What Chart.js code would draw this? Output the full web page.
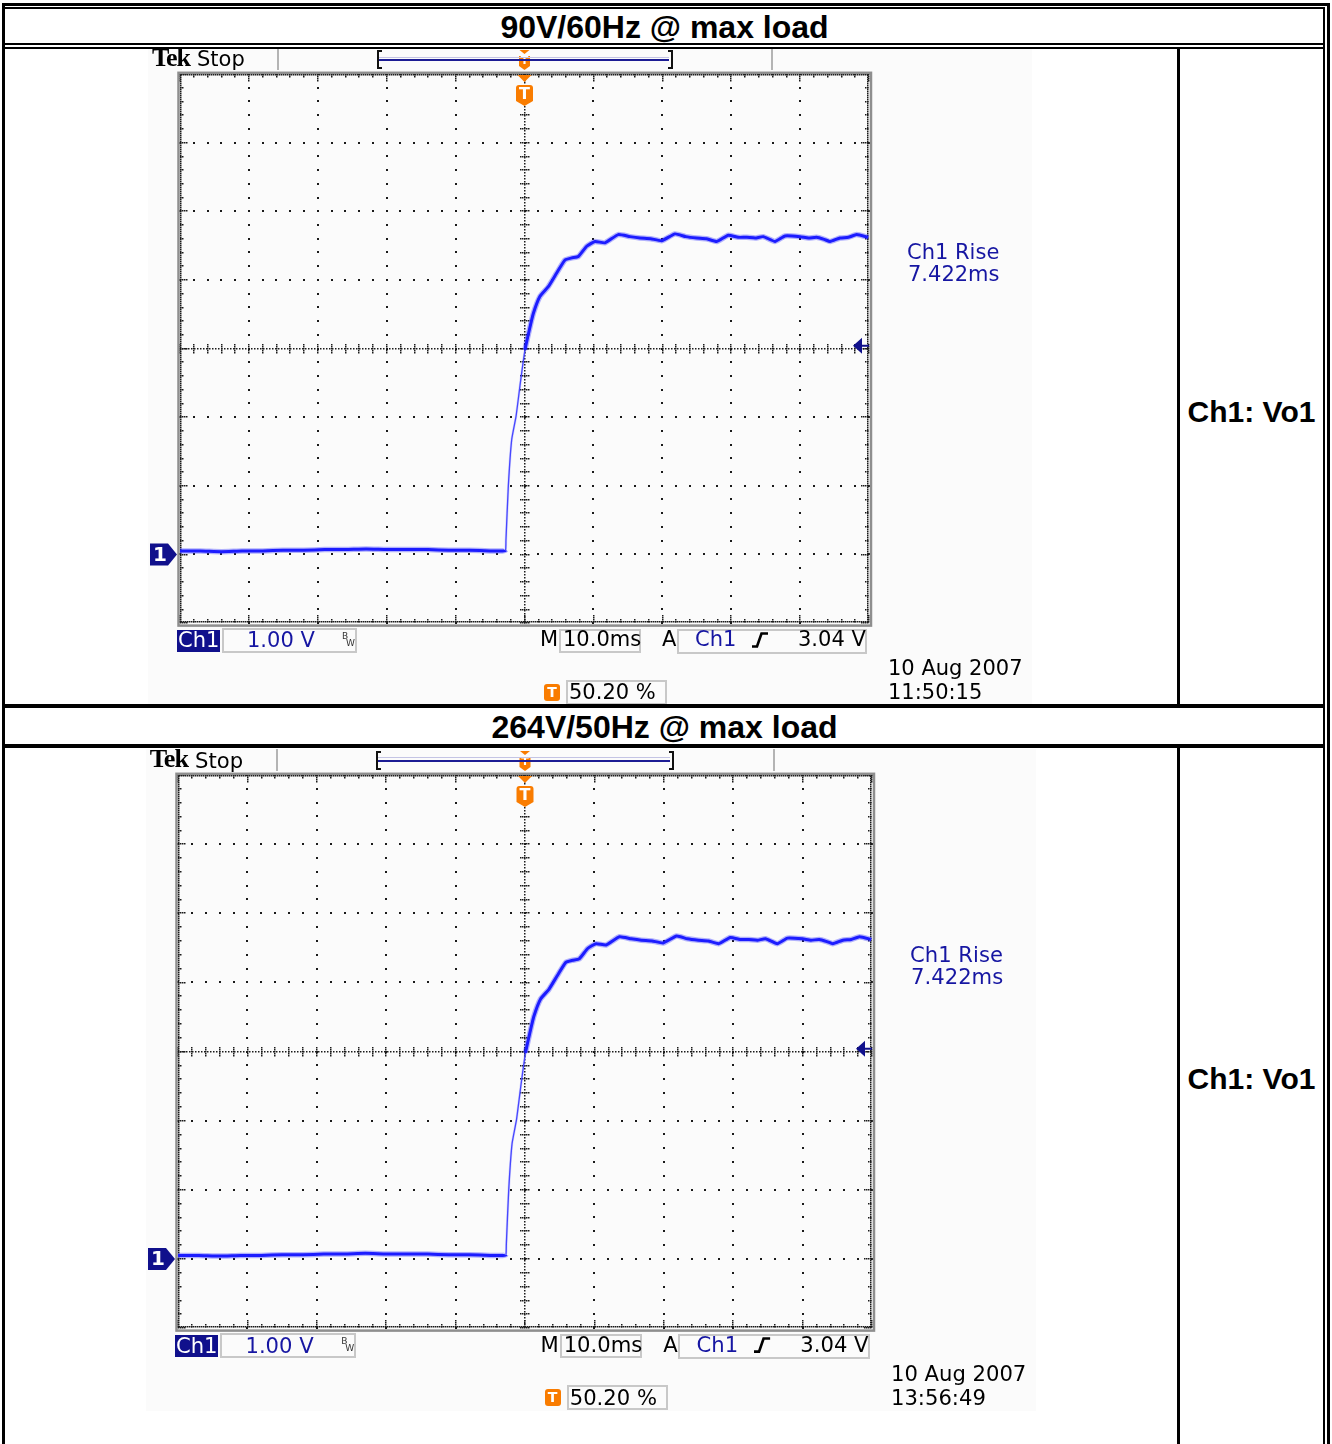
<!DOCTYPE html>
<html>
<head>
<meta charset="utf-8">
<script src="https://cdn.jsdelivr.net/npm/chart.js"></script>
<style>
  html, body { margin: 0; padding: 0; background: #fff; }
  body { width: 1332px; height: 1444px; position: relative; overflow: hidden; }
  .rule { position: absolute; background: #000; z-index: 5; }
  .title { position: absolute; left: 6px; width: 1317px; text-align: center; font: bold 32px/1 "Liberation Sans", Arial, sans-serif; color: #000; }
  .side { position: absolute; left: 1180px; width: 143px; text-align: center; font: bold 30px/1 "Liberation Sans", Arial, sans-serif; color: #000; }
  .t { position: absolute; white-space: nowrap; line-height: 1; font-family: "DejaVu Sans", Verdana, sans-serif; z-index: 3; }
  .box { position: absolute; box-sizing: border-box; z-index: 2; }
</style>
</head>
<body>
<script>
const panelTitles = ['90V/60Hz @ max load', '264V/50Hz @ max load'];
const channelLabel = 'Ch1: Vo1';
const captureDate = ['10 Aug 2007', '10 Aug 2007'];
const captureTime = ['11:50:15', '13:56:49'];
const riseLabel = ['7.422ms', '7.422ms'];
const voltsPerDivText = '1.00 V';
const timePerDivText = '10.0ms';
const trigLevelText = '3.04 V';
const trigPosText = '50.20 %';

const msPerDiv = 10;
const timeRange = [-50, 50];   // ms, trigger at centre
const voltRange = [-1, 7];     // V, ch1 ground 3 div below centre
const trigLevelV = 3.04;
const edgeWindowMs = [-2.75, 0.07]; // fast part of the edge, drawn thin like the scope does

const timeMs = [-50, -47, -44, -41, -38, -35, -32, -29, -26, -23,
  -20, -17, -14, -11, -8, -5, -3.2, -2.75, -2.69, -2.35,
  -1.86, -1.23, -0.55, 0.07, 0.70, 1.28, 2.25, 3.45, 4.67, 5.88,
  6.85, 7.81, 9.03, 10.23, 11.68, 13.61, 15.3, 16.76, 18.3, 19.91,
  21.84, 23.4, 24.99, 26.4, 27.9, 29.58, 31.0, 32.25, 33.5, 34.66,
  36.36, 37.81, 39.99, 41.2, 42.4, 43.5, 44.35, 45.79, 47.0, 48.22, 49.9];

const vo1At90V = [0.05, 0.05, 0.04, 0.05, 0.05, 0.06, 0.06, 0.07, 0.07, 0.08,
  0.07, 0.07, 0.07, 0.06, 0.06, 0.05, 0.05, 0.06, 0.21, 0.99,
  1.67, 2.01, 2.54, 2.98, 3.27, 3.51, 3.76, 3.90, 4.10, 4.29,
  4.32, 4.34, 4.49, 4.56, 4.54, 4.66, 4.63, 4.61, 4.60, 4.57,
  4.67, 4.63, 4.61, 4.60, 4.56, 4.65, 4.62, 4.62, 4.61, 4.63,
  4.56, 4.64, 4.63, 4.61, 4.62, 4.59, 4.56, 4.61, 4.62, 4.66, 4.62];

const vo1At264V = [0.05, 0.05, 0.04, 0.05, 0.05, 0.06, 0.06, 0.07, 0.07, 0.08,
  0.07, 0.07, 0.07, 0.06, 0.06, 0.05, 0.05, 0.06, 0.21, 0.99,
  1.67, 2.01, 2.54, 2.98, 3.27, 3.51, 3.76, 3.90, 4.10, 4.29,
  4.32, 4.34, 4.49, 4.56, 4.54, 4.66, 4.63, 4.61, 4.60, 4.57,
  4.67, 4.63, 4.61, 4.60, 4.56, 4.65, 4.62, 4.62, 4.61, 4.63,
  4.56, 4.64, 4.63, 4.61, 4.62, 4.59, 4.56, 4.61, 4.62, 4.66, 4.62];

const traces = [vo1At90V, vo1At264V];

// ===== Layout: chart-area origin of each scope shot =====
const layouts = [{ ox: 180, oy: 74, s: 1 }, { ox: 178, oy: 775, s: 1.007 }];

const NAVY = '#10108c';
const ORANGE = '#f97c00';
const TEXT_BLUE = '#1616a2';

// ===== Page frame =====
function rule(l, t, w, h) {
  const d = document.createElement('div');
  d.className = 'rule';
  d.style.cssText = `left:${l}px;top:${t}px;width:${w}px;height:${h}px`;
  document.body.appendChild(d);
}
rule(2, 3, 1328, 3);
rule(5, 7, 1320, 2);
rule(2, 3, 3, 1441);
rule(1327, 3, 3, 1441);
rule(1323, 7, 2, 1437);
rule(5, 43, 1320, 2);
rule(5, 47, 1320, 2);
rule(5, 704, 1320, 4);
rule(5, 744, 1320, 4);
rule(1177, 49, 3, 655);
rule(1177, 748, 3, 696);

function pageText(cls, txt, top) {
  const d = document.createElement('div');
  d.className = cls;
  d.textContent = txt;
  d.style.top = top + 'px';
  document.body.appendChild(d);
}
pageText('title', panelTitles[0], 11);
pageText('title', panelTitles[1], 711);
pageText('side', channelLabel, 397);
pageText('side', channelLabel, 1064);

// ===== Scope grid / markers plugin =====
const scopeGrid = {
  id: 'scopeGrid',
  beforeDatasetsDraw(chart) {
    const { ctx, chartArea: a, scales: { x, y } } = chart;
    const dot = (px, py, sz) => ctx.fillRect(Math.round(px - sz / 2), Math.round(py - sz / 2), sz, sz);
    const xMajor = [], xMinor = [], yMajor = [], yMinor = [];
    for (let v = timeRange[0]; v <= timeRange[1] + 1e-6; v += msPerDiv) xMajor.push(x.getPixelForValue(v));
    for (let v = timeRange[0]; v <= timeRange[1] + 1e-6; v += msPerDiv / 5) xMinor.push(x.getPixelForValue(v));
    for (let v = voltRange[0]; v <= voltRange[1] + 1e-6; v += 1) yMajor.push(y.getPixelForValue(v));
    for (let v = voltRange[0]; v <= voltRange[1] + 1e-6; v += 0.2) yMinor.push(y.getPixelForValue(v));
    const xc = x.getPixelForValue((timeRange[0] + timeRange[1]) / 2);
    const yc = y.getPixelForValue((voltRange[0] + voltRange[1]) / 2);

    ctx.save();
    ctx.fillStyle = '#1a1a1a';
    // division lines: a dot every fifth of a division
    xMajor.slice(1, -1).forEach(px => {
      if (Math.abs(px - xc) > 1) yMinor.forEach(py => dot(px, py, 2));
    });
    yMajor.slice(1, -1).forEach(py => {
      if (Math.abs(py - yc) > 1) xMinor.forEach(px => dot(px, py, 2));
    });
    // centre cross: fine dots + small ticks
    for (let py = a.top; py <= a.bottom; py += 3) dot(xc, py, 1.5);
    for (let px = a.left; px <= a.right; px += 3) dot(px, yc, 1.5);
    yMinor.forEach(py => { for (let d = -4; d <= 4; d += 2) dot(xc + d, py, 1.5); });
    xMinor.forEach(px => { for (let d = -4; d <= 4; d += 2) dot(px, yc + d, 1.5); });
    // edges
    for (let px = a.left; px <= a.right; px += 2) { dot(px, a.top + 1, 1.5); dot(px, a.bottom - 1, 1.5); }
    for (let py = a.top; py <= a.bottom; py += 2) { dot(a.left + 1, py, 1.5); dot(a.right - 1, py, 1.5); }
    xMinor.forEach((px, i) => {
      const len = i % 5 === 0 ? 8 : 4;
      for (let d = 1; d <= len; d += 2) { dot(px, a.top + d, 1.5); dot(px, a.bottom - d, 1.5); }
    });
    yMinor.forEach((py, i) => {
      const len = i % 5 === 0 ? 8 : 4;
      for (let d = 1; d <= len; d += 2) { dot(a.left + d, py, 1.5); dot(a.right - d, py, 1.5); }
    });
    ctx.restore();
  },
  afterDraw(chart) {
    const { ctx, chartArea: a, scales: { x, y } } = chart;
    const xc = x.getPixelForValue(0);
    ctx.save();
    // grey frame
    ctx.strokeStyle = '#8e8e8e';
    ctx.lineWidth = 2.5;
    ctx.strokeRect(a.left - 1.5, a.top - 1.2, a.right - a.left + 3.5, a.bottom - a.top + 3.8);

    // trigger position marker
    ctx.fillStyle = ORANGE;
    ctx.beginPath();
    ctx.moveTo(xc - 7, a.top + 1); ctx.lineTo(xc + 7, a.top + 1); ctx.lineTo(xc, a.top + 8);
    ctx.closePath(); ctx.fill();
    const y0 = a.top + 11, y1 = a.top + 31;
    ctx.beginPath();
    ctx.moveTo(xc - 8.5, y0 + 3);
    ctx.quadraticCurveTo(xc - 8.5, y0, xc - 5.5, y0);
    ctx.lineTo(xc + 5.5, y0);
    ctx.quadraticCurveTo(xc + 8.5, y0, xc + 8.5, y0 + 3);
    ctx.lineTo(xc + 8.5, y1 - 4);
    ctx.lineTo(xc, y1 + 1);
    ctx.lineTo(xc - 8.5, y1 - 4);
    ctx.closePath(); ctx.fill();
    ctx.fillStyle = '#fff';
    ctx.font = 'bold 16px "DejaVu Sans"';
    ctx.textAlign = 'center'; ctx.textBaseline = 'middle';
    ctx.fillText('T', xc, (y0 + y1) / 2);

    // small trigger marker on record bar
    ctx.fillStyle = ORANGE;
    ctx.beginPath();
    ctx.moveTo(xc - 5, a.top - 24); ctx.lineTo(xc + 5, a.top - 24); ctx.lineTo(xc, a.top - 20);
    ctx.closePath(); ctx.fill();
    ctx.beginPath();
    ctx.moveTo(xc - 5.5, a.top - 18);
    ctx.lineTo(xc + 5.5, a.top - 18);
    ctx.lineTo(xc + 5.5, a.top - 8);
    ctx.lineTo(xc, a.top - 4);
    ctx.lineTo(xc - 5.5, a.top - 8);
    ctx.closePath(); ctx.fill();
    ctx.fillStyle = '#fff';
    ctx.font = 'bold 11px "DejaVu Sans"';
    ctx.fillText('T', xc, a.top - 12.5);

    // ch1 ground marker
    const yg = y.getPixelForValue(0);
    ctx.fillStyle = NAVY;
    ctx.beginPath();
    ctx.moveTo(a.left - 30, yg - 11);
    ctx.lineTo(a.left - 12, yg - 11);
    ctx.lineTo(a.left - 3, yg);
    ctx.lineTo(a.left - 12, yg + 11);
    ctx.lineTo(a.left - 30, yg + 11);
    ctx.closePath(); ctx.fill();
    ctx.fillStyle = '#fff';
    ctx.font = 'bold 20px "DejaVu Sans"';
    ctx.fillText('1', a.left - 20, yg + 1);

    // trigger level arrow
    const yt = y.getPixelForValue(trigLevelV);
    ctx.fillStyle = NAVY;
    ctx.beginPath();
    ctx.moveTo(a.right - 16, yt); ctx.lineTo(a.right - 7, yt - 8); ctx.lineTo(a.right - 7, yt + 8);
    ctx.closePath(); ctx.fill();
    ctx.fillRect(a.right - 8, yt - 1, 8, 2);
    ctx.restore();
  }
};

const onEdge = c => c.p0.parsed.x >= edgeWindowMs[0] && c.p1.parsed.x <= edgeWindowMs[1];

// ===== Build one scope panel =====
function buildPanel(i) {
  const L = layouts[i];
  const X = rx => L.ox + rx * L.s;
  const Y = ry => L.oy + ry * L.s;
  const S = v => v * L.s;

  const cl = Math.round(X(-32)), ct = Math.round(Y(-26));
  const W = Math.round(S(884)), H = Math.round(S(657));
  const padL = L.ox - cl, padT = L.oy - ct;
  const cw = Math.round(S(689)), chh = Math.round(S(549));

  const cv = document.createElement('canvas');
  cv.width = W; cv.height = H;
  cv.style.cssText = `position:absolute;left:${cl}px;top:${ct}px;width:${W}px;height:${H}px;background:#fbfbfb;z-index:1`;
  document.body.appendChild(cv);

  const pts = timeMs.map((t, k) => ({ x: t, y: traces[i][k] }));

  new Chart(cv, {
    type: 'line',
    data: {
      datasets: [{
        data: pts,
        borderColor: '#1c1cff',
        borderWidth: 3,
        pointRadius: 0,
        tension: 0.15,
        segment: {
          borderWidth: c => onEdge(c) ? 1.3 : 3,
          borderColor: c => onEdge(c) ? '#4646ff' : '#1c1cff'
        }
      }, {
        // noise halo around the trace
        data: pts,
        borderColor: 'rgba(40,40,255,0.35)',
        borderWidth: 5.5,
        pointRadius: 0,
        tension: 0.15,
        segment: {
          borderWidth: c => onEdge(c) ? 2.5 : 5.5,
          borderColor: c => onEdge(c) ? 'rgba(70,70,255,0.2)' : 'rgba(40,40,255,0.35)'
        }
      }]
    },
    options: {
      responsive: false,
      animation: false,
      events: [],
      layout: { padding: { left: padL, top: padT, right: W - padL - cw, bottom: H - padT - chh } },
      plugins: { legend: { display: false }, tooltip: { enabled: false } },
      scales: {
        x: { type: 'linear', min: timeRange[0], max: timeRange[1], display: false },
        y: { type: 'linear', min: voltRange[0], max: voltRange[1], display: false }
      }
    },
    plugins: [scopeGrid]
  });

  const text = (txt, rx, ry, opt = {}) => {
    const d = document.createElement('div');
    d.className = 't';
    d.textContent = txt;
    d.style.left = X(rx) + 'px';
    d.style.top = Y(ry) + 'px';
    d.style.fontSize = S(opt.size || 21) + 'px';
    d.style.color = opt.color || '#000';
    if (opt.font) d.style.fontFamily = opt.font;
    if (opt.weight) d.style.fontWeight = opt.weight;
    if (opt.ls) d.style.letterSpacing = opt.ls + 'px';
    document.body.appendChild(d);
    return d;
  };
  const box = (rx, ry, w, h, css) => {
    const d = document.createElement('div');
    d.className = 'box';
    d.style.cssText += `left:${X(rx)}px;top:${Y(ry)}px;width:${S(w)}px;height:${S(h)}px;` + css;
    document.body.appendChild(d);
    return d;
  };

  // top status bar
  text('Tek', -28, -29, { size: 26, font: '"Liberation Serif", serif', weight: 'bold', ls: -1 });
  text('Stop', 17, -25);
  box(97, -26, 2, 22, 'background:#b4b4b4');
  box(591, -26, 2, 22, 'background:#b4b4b4');
  box(197, -24, 5, 19, 'border:2px solid #111;border-right:none');
  box(488, -24, 5, 19, 'border:2px solid #111;border-left:none');
  box(199, -17.5, 290, 1, 'background:#c4c4e4');
  box(199, -15, 290, 2, 'background:#1c1c94');

  // readouts
  text('Ch1 Rise', 727, 167.5, { color: TEXT_BLUE });
  text(riseLabel[i], 728, 190, { color: TEXT_BLUE });

  box(-3, 556, 43, 22, 'background:' + NAVY);
  text('Ch1', -2, 556, { color: '#fff' });
  box(42, 554, 135, 25, 'border:2px solid #c8c8c8');
  text(voltsPerDivText, 67, 556, { color: TEXT_BLUE });
  text('B', 162, 558, { size: 9, color: '#333' });
  text('W', 166, 565, { size: 9, color: '#333' });

  text('M', 360, 555);
  box(379, 555, 82, 24, 'border:2px solid #c8c8c8');
  text(timePerDivText, 383, 555);
  text('A', 482, 555);
  box(497, 555, 190, 25, 'border:2px solid #c8c8c8');
  text('Ch1', 515, 555, { color: TEXT_BLUE });
  const edge = box(571, 558, 18, 16, '');
  edge.innerHTML = '<svg width="100%" height="100%" viewBox="0 0 18 16"><path d="M1 14.5 H6 L10.5 1.5 H17" fill="none" stroke="#000" stroke-width="2.6"/></svg>';
  text(trigLevelText, 618, 555);

  const ti = box(364, 610, 16, 17, `background:${ORANGE};border-radius:3px;color:#fff;font:bold ${S(14)}px/${S(17)}px "DejaVu Sans";text-align:center`);
  ti.textContent = 'T';
  box(386, 606, 101, 25, 'border:2px solid #c8c8c8');
  text(trigPosText, 389, 608);

  text(captureDate[i], 708, 584);
  text(captureTime[i], 708, 607.5);
}

buildPanel(0);
buildPanel(1);
</script>
</body>
</html>
